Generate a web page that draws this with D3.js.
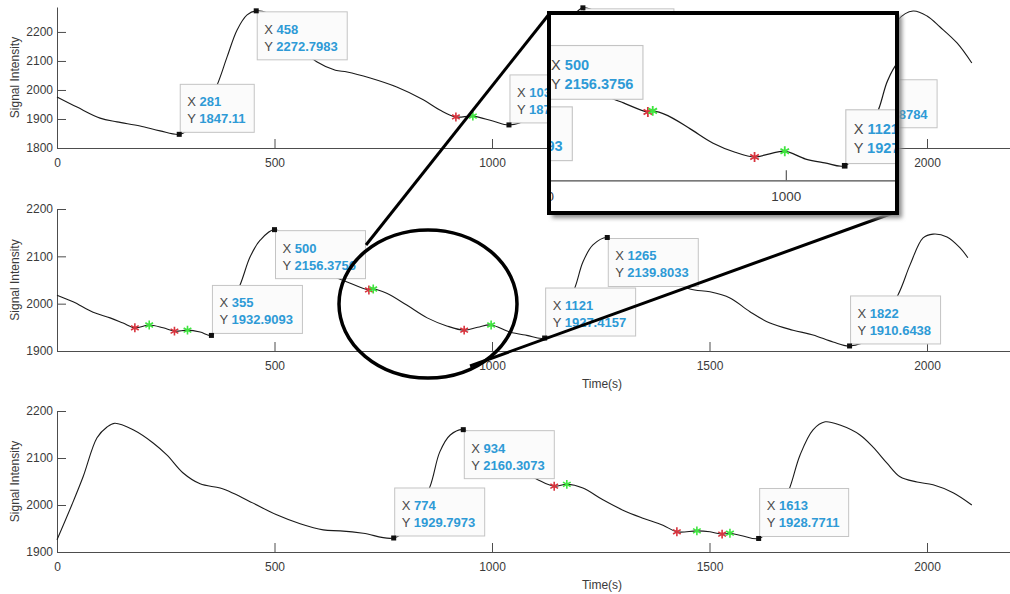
<!DOCTYPE html>
<html>
<head>
<meta charset="utf-8">
<script src="https://cdn.jsdelivr.net/npm/d3@7"></script>
<style>
  body { margin: 0; background: #fff; }
  svg { display: block; font-family: "Liberation Sans", Arial, Helvetica, sans-serif; }
</style>
</head>
<body>
<svg id="chart" width="1010" height="594"></svg>
<script>
// ---- data ----
const xTicksFull = [0, 500, 1000, 1500, 2000];
const xTicksNoZero = [500, 1000, 1500, 2000];
const yTicks1 = [1800, 1900, 2000, 2100, 2200];
const yTicks23 = [1900, 2000, 2100, 2200];

// top panel
const time1 = [0, 46, 99, 138, 191, 237, 281, 300, 335, 368, 391, 414, 437, 458, 482, 515, 555, 597, 640, 667, 720, 781, 842, 880, 917, 956, 1002, 1039,
  1080, 1120, 1160, 1190, 1209, 1240, 1300, 1400, 1500, 1600, 1700, 1760, 1814, 1860, 1900, 1933, 1968, 2000, 2030, 2069, 2103];
const signal1 = [1976, 1941, 1903, 1890, 1876, 1859, 1847.11, 1862, 1920, 2017, 2114, 2207, 2259, 2272.8, 2266, 2225, 2150, 2097, 2068, 2062, 2041, 2010, 1966, 1931, 1907, 1910, 1893, 1879.5,
  1900, 1990, 2150, 2260, 2283, 2270, 2200, 2090, 2030, 1970, 1920, 1885, 1862.9, 1960, 2130, 2241, 2272, 2255, 2217, 2162, 2093];
const tipTime1 = [281, 458, 1039, 1209, 1814];
const tipValue1 = [1847.11, 2272.7983, 1879.5208, 2283.1466, 1862.8784];
const redTime1 = [917];
const redValue1 = [1907];
const greenTime1 = [956];
const greenValue1 = [1910];

// middle panel
const time2 = [0, 37, 83, 122, 152, 179, 212, 244, 270, 300, 329, 355, 385, 421, 444, 467, 500, 540, 590, 630, 667, 717, 727, 758, 804, 851, 896, 936, 967, 998, 1041, 1080, 1121,
  1155, 1191, 1209, 1232, 1265, 1300, 1350, 1400, 1455, 1501, 1547, 1593, 1639, 1692, 1738, 1784, 1822, 1870, 1933, 1961, 1991, 2014, 2046, 2076, 2094];
const signal2 = [2018, 2004, 1982, 1970, 1959, 1949, 1955, 1949, 1942, 1944, 1940, 1932.9, 1970, 2040, 2099, 2134, 2156.4, 2130, 2085, 2060, 2046, 2029, 2031, 2022, 1997, 1970, 1953, 1944, 1950, 1955, 1940, 1933, 1927.4,
  1960, 2035, 2088, 2124, 2139.8, 2115, 2080, 2055, 2031, 2025, 2012, 1983, 1959, 1944, 1934, 1919, 1910.6, 1928, 2018, 2082, 2139, 2147, 2141, 2118, 2097];
const tipTime2 = [355, 500, 1121, 1265, 1822];
const tipValue2 = [1932.9093, 2156.3756, 1927.4157, 2139.8033, 1910.6438];
const redTime2 = [179, 270, 717, 936];
const redValue2 = [1949, 1942, 2029, 1944];
const greenTime2 = [212, 300, 727, 998];
const greenValue2 = [1955, 1944, 2031, 1955];

// bottom panel
const time3 = [0, 34, 60, 92, 115, 133, 175, 221, 253, 290, 329, 375, 405, 451, 505, 559, 612, 651, 704, 774, 815, 857, 880, 904, 934, 980, 1040, 1103, 1143, 1172, 1209, 1255, 1301, 1347, 1393,
  1425, 1471, 1501, 1529, 1547, 1577, 1613, 1650, 1685, 1708, 1738, 1766, 1800, 1846, 1876, 1908, 1938, 1977, 2014, 2060, 2103];
const signal3 = [1926, 2000, 2060, 2143, 2166, 2174, 2160, 2132, 2106, 2068, 2045, 2036, 2025, 2004, 1979, 1960, 1947, 1945, 1940, 1929.8, 1960, 2038, 2113, 2149, 2160.3, 2130, 2085, 2055, 2040, 2044, 2036, 2011, 1989, 1972, 1957,
  1943, 1945, 1943, 1938, 1940, 1934, 1928.8, 1960, 2038, 2106, 2160, 2177, 2170, 2149, 2123, 2089, 2060, 2049, 2043, 2026, 2000];
const tipTime3 = [774, 934, 1613];
const tipValue3 = [1929.7973, 2160.3073, 1928.7711];
const redTime3 = [1143, 1425, 1529];
const redValue3 = [2040, 1943, 1938];
const greenTime3 = [1172, 1471, 1547];
const greenValue3 = [2044, 1945, 1940];

// ---- layout ----
const svg = d3.select('#chart');
const x = d3.scaleLinear().domain([0, 2200]).range([57, 1014]);

const axisColor = '#4d4d4d';
const textColor = '#3a3a3a';
const tipBlue = '#2e9ad6';

const panels = [
  { time: time1, signal: signal1, yDomain: [1800, 2286], yRange: [148, 7], yTicks: yTicks1, xTicks: xTicksFull,
    tipTime: tipTime1, tipValue: tipValue1, tipSide: ['up', 'down', 'up', 'down', 'up'],
    red: [redTime1, redValue1], green: [greenTime1, greenValue1], xLabel: false },
  { time: time2, signal: signal2, yDomain: [1900, 2200], yRange: [351, 209], yTicks: yTicks23, xTicks: xTicksNoZero,
    tipTime: tipTime2, tipValue: tipValue2, tipSide: ['up', 'down', 'up', 'down', 'up'],
    red: [redTime2, redValue2], green: [greenTime2, greenValue2], xLabel: true },
  { time: time3, signal: signal3, yDomain: [1900, 2200], yRange: [552, 411], yTicks: yTicks23, xTicks: xTicksFull,
    tipTime: tipTime3, tipValue: tipValue3, tipSide: ['up', 'down', 'up'],
    red: [redTime3, redValue3], green: [greenTime3, greenValue3], xLabel: true }
];

// Draw one datatip box (MATLAB style)
function drawTip(g, px, py, xs, ys, side) {
  const left = px + 1;
  const top = side === 'up' ? py - 50 : py + 1;
  const tip = g.append('g');
  const rect = tip.append('rect')
    .attr('x', left).attr('y', top).attr('height', 48)
    .attr('fill', '#fbfbfb').attr('stroke', '#c4c4c4').attr('stroke-width', 1);

  const lines = [['X ', xs, top + 22], ['Y ', ys, top + 39]];
  let w = 0;
  lines.forEach(([lab, val, by]) => {
    const t = tip.append('text').attr('x', left + 7).attr('y', by).attr('font-size', 13);
    t.append('tspan').attr('fill', '#4a4a4a').text(lab);
    t.append('tspan').attr('fill', tipBlue).attr('font-weight', 'bold').text(val);
    w = Math.max(w, t.node().getComputedTextLength());
  });
  rect.attr('width', Math.round(w + 16));

  tip.append('rect')
    .attr('x', px - 2.5).attr('y', py - 2.5).attr('width', 5).attr('height', 5)
    .attr('fill', '#111');
}

// Draw a whole panel into a group
function drawPanel(g, p) {
  const y = d3.scaleLinear().domain(p.yDomain).range(p.yRange);

  const xAxis = d3.axisBottom(x).tickValues(p.xTicks).tickFormat(d3.format('d'))
    .tickSizeInner(-9).tickSizeOuter(0).tickPadding(10);
  const yAxis = d3.axisLeft(y).tickValues(p.yTicks).tickFormat(d3.format('d'))
    .tickSizeInner(-9).tickSizeOuter(0).tickPadding(4);

  const gx = g.append('g').attr('transform', `translate(0,${p.yRange[0]})`).call(xAxis);
  const gy = g.append('g').attr('transform', `translate(${x(0)},0)`).call(yAxis);
  [gx, gy].forEach(a => {
    a.select('.domain').attr('stroke', axisColor);
    a.selectAll('.tick line').attr('stroke', axisColor);
    a.selectAll('.tick text').attr('fill', textColor).attr('font-size', 12)
      .attr('font-family', '"Liberation Sans", Arial, sans-serif');
  });

  g.append('text')
    .attr('transform', `translate(15,${(p.yRange[0] + p.yRange[1]) / 2}) rotate(-90)`)
    .attr('text-anchor', 'middle').attr('dy', '0.35em')
    .attr('font-size', 12).attr('fill', textColor)
    .text('Signal Intensity');

  if (p.xLabel) {
    g.append('text')
      .attr('x', 602).attr('y', p.yRange[0] + 33)
      .attr('text-anchor', 'middle').attr('dy', '0.35em')
      .attr('font-size', 12).attr('fill', textColor)
      .text('Time(s)');
  }

  const pts = p.time.map((t, i) => [t, p.signal[i]]);
  const line = d3.line().x(d => x(d[0])).y(d => y(d[1])).curve(d3.curveCatmullRom);
  g.append('path').datum(pts)
    .attr('fill', 'none').attr('stroke', '#1a1a1a').attr('stroke-width', 1.1)
    .attr('d', line);

  // red / green asterisks
  const star = d3.symbol(d3.symbolAsterisk, 55);
  [[p.red, '#d8343e'], [p.green, '#3fe43f']].forEach(([[ts, vs], col]) => {
    g.selectAll(null).data(ts.map((t, i) => [t, vs[i]])).enter()
      .append('path')
      .attr('transform', d => `translate(${x(d[0])},${y(d[1])})`)
      .attr('d', star)
      .attr('fill', 'none').attr('stroke', col).attr('stroke-width', 1.6);
  });

  p.tipTime.forEach((t, i) => {
    drawTip(g, x(t), y(p.tipValue[i]), String(t), String(p.tipValue[i]), p.tipSide[i]);
  });
}

panels.forEach(p => drawPanel(svg.append('g'), p));

// ---- zoom annotation: ellipse, connectors, magnified inset ----
const defs = svg.append('defs');
defs.append('clipPath').attr('id', 'insetClip')
  .append('rect').attr('x', 549).attr('y', 13).attr('width', 348).attr('height', 200);
defs.append('filter').attr('id', 'blur').append('feGaussianBlur').attr('stdDeviation', 2);

svg.append('ellipse')
  .attr('cx', 428).attr('cy', 304).attr('rx', 89).attr('ry', 74)
  .attr('fill', 'none').attr('stroke', '#000').attr('stroke-width', 3.5);

svg.append('line').attr('x1', 550).attr('y1', 13).attr('x2', 366).attr('y2', 245)
  .attr('stroke', '#000').attr('stroke-width', 3);
svg.append('line').attr('x1', 470).attr('y1', 366).attr('x2', 893).attr('y2', 213)
  .attr('stroke', '#000').attr('stroke-width', 3);

// drop shadow
svg.append('rect').attr('x', 552).attr('y', 16).attr('width', 350).attr('height', 202)
  .attr('fill', '#8a8a8a').attr('filter', 'url(#blur)');

const inset = svg.append('g').attr('clip-path', 'url(#insetClip)');
inset.append('rect').attr('x', 549).attr('y', 13).attr('width', 348).attr('height', 200).attr('fill', '#fff');
drawPanel(inset.append('g').attr('transform', 'translate(234.7,-212.8) scale(1.12)'), panels[1]);

svg.append('rect').attr('x', 549).attr('y', 13).attr('width', 348).attr('height', 200)
  .attr('fill', 'none').attr('stroke', '#000').attr('stroke-width', 4);
</script>
</body>
</html>
